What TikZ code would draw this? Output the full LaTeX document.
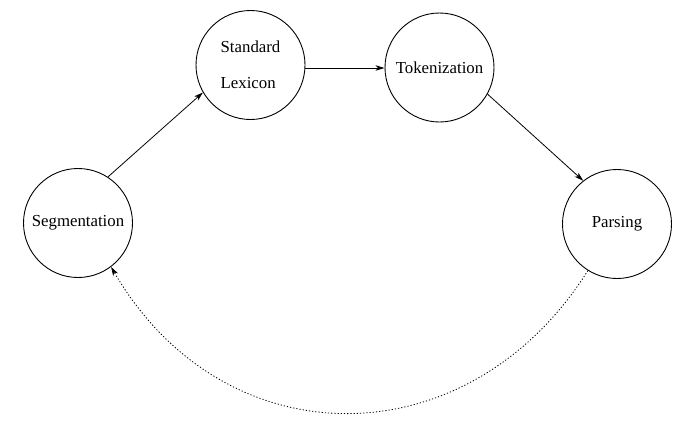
\documentclass[tikz,border=0pt]{standalone}
\usepackage{fontspec}
\setmainfont{Liberation Serif}
\usetikzlibrary{arrows.meta}
\begin{document}
\begin{tikzpicture}[x=1pt,y=-1pt,
  stnode/.style={circle,draw,line width=0.9pt,minimum size=109pt,inner sep=0pt,
    font=\fontsize{16.8}{36}\selectfont},
  conn/.style={line width=0.8pt,-{Stealth[length=9pt,width=5.5pt,inset=2.5pt]}},
  back/.style={conn,dash pattern=on 1.2pt off 2pt}]
\useasboundingbox (0,0) rectangle (691,421);
\node[stnode] (seg) at (78,223) {Segmentation};
\node[stnode,align=left] (lex) at (250.5,65) {Standard\\Lexicon};
\node[stnode] (tok) at (439.5,67.5) {Tokenization};
\node[stnode] (pars) at (617,224) {Parsing};
\draw[conn] (seg.57) -- (lex.210);
\draw[conn] (lex.east |- 0,68) -- (tok.west |- 0,68);
\draw[conn] (tok.-29) -- (pars.128);
\draw[back] (pars.238) .. controls (468,461) and (224,461) .. (seg.307);
\end{tikzpicture}
\end{document}
